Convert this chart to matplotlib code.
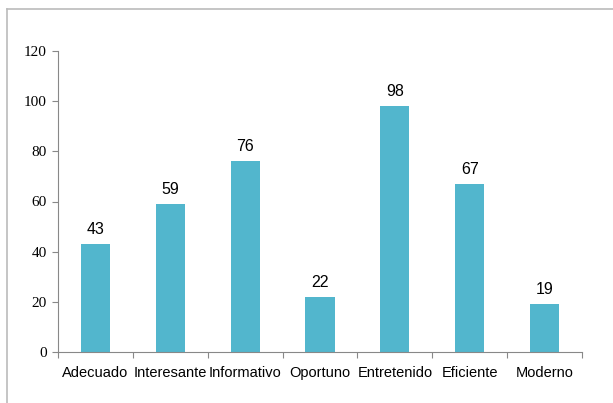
import matplotlib.pyplot as plt
import numpy as np
from matplotlib.lines import Line2D

# Data
categorias = ["Adecuado", "Interesante", "Informativo", "Oportuno", "Entretenido", "Eficiente", "Moderno"]
valores = [43, 59, 76, 22, 98, 67, 19]
yticks = [0, 20, 40, 60, 80, 100, 120]

fig = plt.figure(figsize=(6.13, 4.03), dpi=100)
ax = fig.add_axes([58/613, 1-352/403, (582-58)/613, (352-51)/403])

x = np.arange(len(categorias))
ax.bar(x, valores, width=0.39, color="#52B6CD")

# value labels
for xi, v in zip(x, valores):
    ax.annotate(str(v), (xi, v), xytext=(0, 5), textcoords="offset points",
                ha="center", va="bottom", fontsize=11.5, family="Liberation Sans")

ax.set_xlim(-0.5, len(categorias) - 0.5)
ax.set_ylim(0, 120)
ax.set_yticks(yticks)
ax.set_yticklabels([str(t) for t in yticks], family="Liberation Serif", fontsize=11)

# ticks between categories, labels at centers
ax.set_xticks(np.arange(-0.5, len(categorias)), labels=[""] * (len(categorias) + 1))
ax.set_xticks(x, minor=True)
ax.set_xticklabels(categorias, minor=True, family="Liberation Sans", fontsize=10.5)
ax.tick_params(axis="x", which="major", length=4, color="#888888", direction="out")
ax.tick_params(axis="x", which="minor", length=0, pad=10)
ax.tick_params(axis="y", length=4, color="#888888", pad=4)

for s in ["top", "right"]:
    ax.spines[s].set_visible(False)
ax.spines["left"].set_color("#888888")
ax.spines["bottom"].set_color("#888888")

# chart frame (only top and left visible in the crop)
fig.add_artist(Line2D([7/613, 7/613], [0, 1-9/403], color="#BBBBBB", lw=1.2, transform=fig.transFigure))
fig.add_artist(Line2D([7/613, 1], [1-9/403, 1-9/403], color="#BBBBBB", lw=1.2, transform=fig.transFigure))

fig.savefig("out.png", dpi=100)
